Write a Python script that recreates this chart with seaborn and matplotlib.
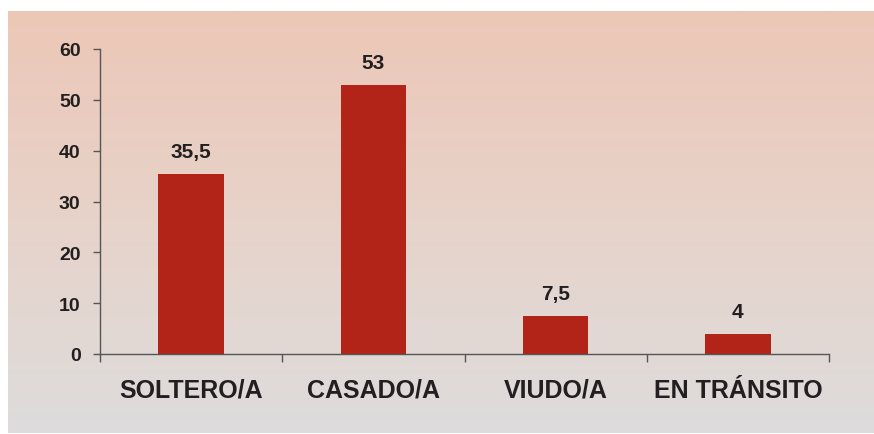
import numpy as np
import pandas as pd
import matplotlib
matplotlib.use("Agg")
import matplotlib.pyplot as plt
from matplotlib.colors import LinearSegmentedColormap
import seaborn as sns

# Estado civil: porcentaje por categoría
categorias = ["SOLTERO/A", "CASADO/A", "VIUDO/A", "EN TRÁNSITO"]
porcentajes = [35.5, 53, 7.5, 4]
etiquetas_valor = ["35,5", "53", "7,5", "4"]
ticks_y = [0, 10, 20, 30, 40, 50, 60]

sns.set_theme(style="white")
plt.rcParams["font.family"] = ["Liberation Sans", "DejaVu Sans"]
plt.rcParams["font.weight"] = "bold"

TEXT = "#231F20"
BAR = "#B22418"
AXIS = "#555555"

W, H = 874, 435
fig = plt.figure(figsize=(W / 100, H / 100), dpi=100, facecolor="white")

# Fondo con degradado vertical (salmón arriba, gris claro abajo)
bg = fig.add_axes([8 / W, 1 / H, 866 / W, 422 / H])
grad = LinearSegmentedColormap.from_list(
    "fondo", ["#ECC7B6", "#E7D3CA", "#DDDCDC"]
)
bg.imshow(np.linspace(0, 1, 256).reshape(-1, 1), aspect="auto", cmap=grad,
          extent=[0, 1, 0, 1], origin="upper")
bg.set_axis_off()

ax = fig.add_axes([100 / W, (H - 355) / H, 729 / W, 305 / H])
ax.patch.set_alpha(0)

df = pd.DataFrame({"categoria": categorias, "porcentaje": porcentajes})
sns.barplot(data=df, x="categoria", y="porcentaje", color=BAR,
            saturation=1, width=0.36, linewidth=0, edgecolor="none", ax=ax)

ax.bar_label(ax.containers[0], labels=etiquetas_valor, padding=9,
             fontsize=15, fontweight="bold", color=TEXT)

ax.set_xlim(-0.5, len(categorias) - 0.5)
ax.set_ylim(0, 60)
ax.set_yticks(ticks_y)
ax.set_yticklabels([str(t) for t in ticks_y], fontsize=14,
                   fontweight="bold", color=TEXT)
ax.set_xticks(range(len(categorias)))
ax.set_xticklabels(categorias, fontsize=18, fontweight="bold", color=TEXT)
ax.set_xticks(np.arange(-0.5, len(categorias), 1), minor=True)

ax.tick_params(axis="x", which="major", length=0, pad=17)
ax.tick_params(axis="x", which="minor", length=6, width=1, color=AXIS,
               direction="out", bottom=True)
ax.tick_params(axis="y", length=5, width=1, color=AXIS, direction="out",
               left=True, pad=9)

for side in ["top", "right"]:
    ax.spines[side].set_visible(False)
for side in ["left", "bottom"]:
    ax.spines[side].set_color(AXIS)
    ax.spines[side].set_linewidth(1)

ax.set_xlabel("")
ax.set_ylabel("")

fig.savefig("out.png", dpi=100, facecolor="white")
